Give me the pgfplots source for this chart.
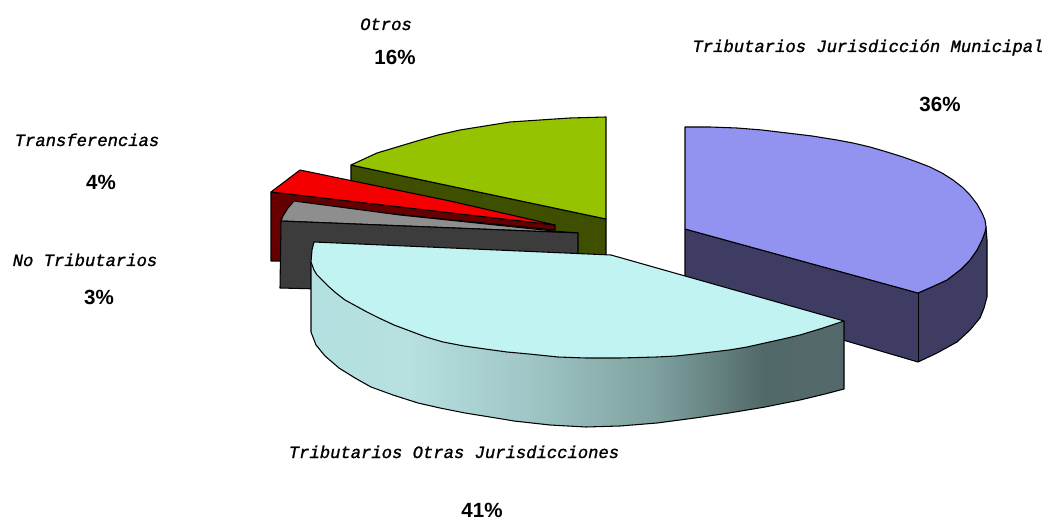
\documentclass[border=0pt]{standalone}
\usepackage{pgfplots}
\pgfplotsset{compat=1.18}
\usepackage{fontspec}
\setmainfont{Liberation Sans}
\newfontfamily\lab[ItalicFeatures={FakeBold=1.2}]{Liberation Mono}
\definecolor{gtop}{HTML}{95C300}
\definecolor{gside}{HTML}{3F4F00}
\definecolor{rtop}{HTML}{F50000}
\definecolor{rside}{HTML}{660000}
\definecolor{ytop}{HTML}{8E8E8E}
\definecolor{yside}{HTML}{3C3C3C}
\definecolor{btop}{HTML}{9292F0}
\definecolor{bside}{HTML}{3F3C64}
\definecolor{ctop}{HTML}{C0F3F2}
\pgfdeclarehorizontalshading{cyanside}{100bp}{
 rgb(0bp)=(0.70,0.88,0.88);
 rgb(25bp)=(0.70,0.88,0.88);
 rgb(34bp)=(0.72,0.88,0.88);
 rgb(45bp)=(0.63,0.78,0.78);
 rgb(57.5bp)=(0.49,0.63,0.62);
 rgb(67.5bp)=(0.32,0.41,0.41);
 rgb(75bp)=(0.33,0.41,0.42);
 rgb(100bp)=(0.33,0.41,0.42)}
\newcommand{\lbl}[3]{\node[anchor=base,inner sep=0pt,font=\fontsize{12.9pt}{14pt}\lab\itshape] at (axis cs:#1,#2) {#3};}
\newcommand{\pct}[3]{\node[anchor=base,inner sep=0pt,font=\fontsize{15.4pt}{17pt}\bfseries] at (axis cs:#1,#2) {#3};}
\begin{document}
\begin{tikzpicture}
\begin{axis}[
  scale only axis, width=786.75pt, height=390pt,
  xmin=0, xmax=1049, ymin=0, ymax=520, y dir=reverse,
  axis lines=none, clip=false, ticks=none,
  every axis plot/.append style={line width=0.8pt, draw=black, mark=none, line join=round},
]
% Otros
\addplot[fill=gside] coordinates {(351,165)(606,219)(606,256)(580,256)(351,190)} -- cycle;
\addplot[fill=gtop] coordinates {(606,117)(606,219)(351,165)(364,159)(377,153)(397,147)(417,141)(438,135)(460,130)(485,126)(510,122)(540,120)(570,118)} -- cycle;
% Transferencias
\addplot[fill=rside] coordinates {(271,192)(555,225)(555,230)(300,205)(300,261)(271,261)} -- cycle;
\addplot[fill=rtop] coordinates {(271,192)(300,170)(353,181)(450,201)(555,225)} -- cycle;
% No Tributarios
\addplot[fill=ytop] coordinates {(281,221)(283,216)(288,208)(294,201)(400,215)(553,231)(578,233)} -- cycle;
\addplot[fill=yside] coordinates {(281,221)(578,233)(578,256)(320,256)(320,289)(280,288)} -- cycle;
% Tributarios Jurisdiccion Municipal
\addplot[fill=bside] coordinates {(685,229)(918,293)(934,286)(947,280)(960,270)(970,260)(977,250)(982,240)(985,232)(986,227)(987,240)(987,297)(984,308)(980,318)(970,330)(957,342)(937,353)(918,362)(843,340)(685,285)} -- cycle;
\addplot[fill=btop] coordinates {(685,127)(685,229)(918,293)(934,286)(947,280)(960,270)(970,260)(977,250)(982,240)(985,232)(986,227)(985,220)(982,213)(977,204)(970,195)(962,187)(953,180)(942,173)(930,167)(917,162)(903,157)(887,152)(870,147)(853,143)(837,140)(812,136)(787,133)(762,130)(737,128)(710,127)} -- cycle;
\addplot[black, line width=0.6pt] coordinates {(918,293)(918,362)};
% Tributarios Otras Jurisdicciones
\addplot[shading=cyanside, shading angle=0, draw=black] coordinates {(311,262)(311,332)(316,345)(325,356)(339,368)(355,378)(371,387)(393,395)(418,403)(440,408)(465,413)(490,417)(514,421)(550,425)(586,427)(620,426)(657,423)(695,418)(729,413)(765,407)(800,400)(825,394)(844,389)(844,321)(600,300)} -- cycle;
\addplot[fill=ctop] coordinates {(314,242)(611,255)(844,321)(823,328)(800,335)(783,339)(765,343)(747,347)(729,350)(712,352)(695,354)(676,356)(657,357)(620,358)(586,358)(558,357)(529,354)(507,352)(485,349)(464,346)(443,342)(426,337)(410,331)(394,325)(379,318)(367,312)(356,306)(345,300)(336,293)(328,286)(322,280)(317,275)(314,270)(311,262)(312,250)} -- cycle;
% etiquetas
\lbl{386}{30}{Otros}
\pct{395}{65}{16\%}
\lbl{87}{146}{Transferencias}
\pct{101}{190}{4\%}
\lbl{85}{266}{No Tributarios}
\pct{99}{305}{3\%}
\lbl{868}{52}{Tributarios Jurisdicción Municipal}
\pct{940}{112}{36\%}
\lbl{454}{458}{Tributarios Otras Jurisdicciones}
\pct{482}{517}{41\%}
\addplot[draw=none] coordinates {(0,0)(1049,520)};
\end{axis}
\end{tikzpicture}
\end{document}
